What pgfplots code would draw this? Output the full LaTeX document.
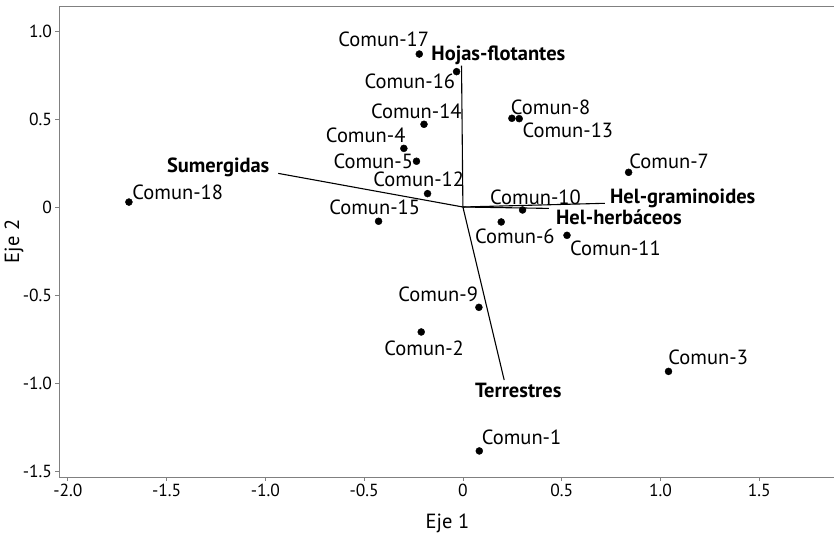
\documentclass[border=0pt]{standalone}
\usepackage{pgfplots}
\pgfplotsset{compat=1.18}
\usepackage{fontspec}
\setmainfont{PT Sans}
\newcommand{\lab}{\fontsize{20.5bp}{24bp}\selectfont}
\begin{document}
\begin{tikzpicture}
\begin{axis}[name=ax, scale only axis, width=777bp, height=471bp,
  xmin=-2.045, xmax=1.889, ymin=-1.534, ymax=1.142,
  axis line style={draw=gray, line width=0.9bp},
  tick style={draw=gray, line width=0.8bp},
  tick align=outside, major tick length=3.5bp,
  xtick pos=bottom, ytick pos=left,
  xtick={-2,-1.5,-1,-0.5,0,0.5,1,1.5},
  xticklabels={-2.0,-1.5,-1.0,-0.5,0,0.5,1.0,1.5},
  ytick={-1.5,-1,-0.5,0,0.5,1},
  yticklabels={-1.5,-1.0,-0.5,0,0.5,1.0},
  ticklabel style={font=\fontsize{17.5bp}{20bp}\selectfont},
  /pgf/number format/assume math mode=true,
  xlabel={Eje 1}, ylabel={Eje 2},
  xlabel style={font=\lab, at={(axis description cs:0.5,0)}, yshift=-46bp, anchor=center},
  ylabel style={font=\lab, at={(axis description cs:-0.0579,0.5)}, anchor=center},
  every node/.append style={inner sep=0pt},
]
% vectors
\addplot[black, line width=1.1bp] coordinates {(0,0) (-0.007,0.803)};
\addplot[black, line width=1.1bp] coordinates {(0,0) (-0.935,0.191)};
\addplot[black, line width=1.1bp] coordinates {(0,0) (0.719,0.021)};
\addplot[black, line width=1.1bp] coordinates {(0,0) (0.435,-0.008)};
\addplot[black, line width=1.1bp] coordinates {(0,0) (0.209,-0.983)};
% sites
\addplot[only marks, mark=*, mark size=3.5bp, black] coordinates {
 (0.083,-1.386) (-0.211,-0.710) (1.041,-0.934) (-0.299,0.333) (-0.235,0.260)
 (0.194,-0.085) (0.839,0.197) (0.248,0.504) (0.081,-0.570) (0.302,-0.017)
 (0.527,-0.161) (-0.179,0.076) (0.285,0.502) (-0.197,0.470) (-0.427,-0.081)
 (-0.032,0.769) (-0.221,0.869) (-1.691,0.028)
};
% site labels
\node[anchor=base west, font=\lab] at (axis cs:0.078,-1.352) {Comun-1};
\node[anchor=base west, font=\lab] at (axis cs:-0.415,-0.841) {Comun-2};
\node[anchor=base west, font=\lab] at (axis cs:1.023,-0.892) {Comun-3};
\node[anchor=base west, font=\lab] at (axis cs:-0.711,0.365) {Comun-4};
\node[anchor=base west, font=\lab] at (axis cs:-0.673,0.219) {Comun-5};
\node[anchor=base west, font=\lab] at (axis cs:0.044,-0.207) {Comun-6};
\node[anchor=base west, font=\lab] at (axis cs:0.825,0.219) {Comun-7};
\node[anchor=base west, font=\lab] at (axis cs:0.225,0.528) {Comun-8};
\node[anchor=base west, font=\lab] at (axis cs:-0.344,-0.538) {Comun-9};
\node[anchor=base west, font=\lab] at (axis cs:0.120,0.017) {Comun-10};
\node[anchor=base west, font=\lab] at (axis cs:0.525,-0.273) {Comun-11};
\node[anchor=base west, font=\lab] at (axis cs:-0.471,0.115) {Comun-12};
\node[anchor=base west, font=\lab] at (axis cs:0.284,0.396) {Comun-13};
\node[anchor=base west, font=\lab] at (axis cs:-0.483,0.500) {Comun-14};
\node[anchor=base west, font=\lab] at (axis cs:-0.694,-0.040) {Comun-15};
\node[anchor=base west, font=\lab] at (axis cs:-0.516,0.674) {Comun-16};
\node[anchor=base west, font=\lab] at (axis cs:-0.648,0.911) {Comun-17};
\node[anchor=base west, font=\lab] at (axis cs:-1.691,0.043) {Comun-18};
% variable labels
\node[anchor=base west, font=\lab\bfseries] at (axis cs:-0.177,0.831) {Hojas-flotantes};
\node[anchor=base east, font=\lab\bfseries] at (axis cs:-0.962,0.195) {Sumergidas};
\node[anchor=base west, font=\lab\bfseries] at (axis cs:0.727,0.021) {Hel-graminoides};
\node[anchor=base west, font=\lab\bfseries] at (axis cs:0.454,-0.102) {Hel-herbáceos};
\node[anchor=base west, font=\lab\bfseries] at (axis cs:0.044,-1.083) {Terrestres};
\end{axis}
\pgfresetboundingbox
\path ([shift={(-59bp,-56bp)}]ax.south west) rectangle ([shift={(-2bp,6bp)}]ax.north east);
\end{tikzpicture}
\end{document}
